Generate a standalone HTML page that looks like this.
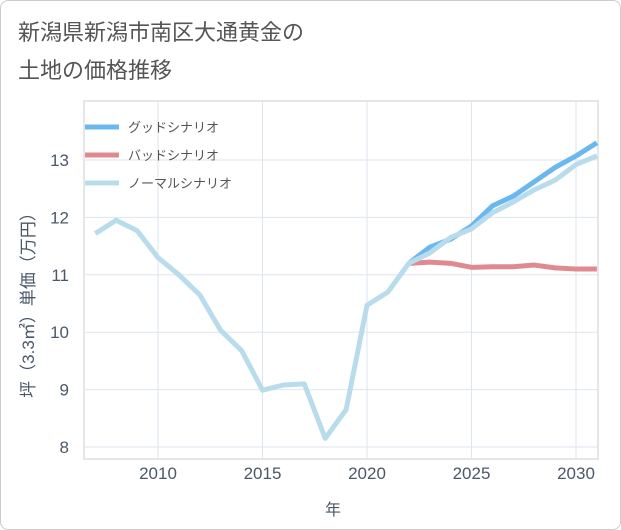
<!DOCTYPE html>
<html><head><meta charset="utf-8"><style>
body{margin:0;background:#fff;}
#card{position:absolute;left:0;top:0;width:619px;height:528px;border:1px solid #ccc;border-radius:8px;background:#fff;overflow:hidden;}
.t{position:absolute;left:17px;font:22px "Liberation Sans","Noto Sans CJK JP",sans-serif;color:#555;}
svg text{font-family:"Liberation Sans","Noto Sans CJK JP",sans-serif;}
</style></head><body>
<div id="card">
<div class="t" style="top:14px">新潟県新潟市南区大通黄金の</div>
<div class="t" style="top:52px">土地の価格推移</div>
<svg id="chart" width="621" height="530" style="position:absolute;left:0;top:0"></svg>
</div>
<script>
const years=[2007,2008,2009,2010,2011,2012,2013,2014,2015,2016,2017,2018,2019,2020,2021,2022,2023,2024,2025,2026,2027,2028,2029,2030,2031];
const normal=[11.72,11.95,11.77,11.3,11.0,10.65,10.03,9.68,8.99,9.08,9.1,8.15,8.65,10.47,10.7,11.2,11.38,11.65,11.8,12.08,12.27,12.48,12.65,12.92,13.07];
const forecastYears=[2022,2023,2024,2025,2026,2027,2028,2029,2030,2031];
const good=[11.2,11.48,11.62,11.85,12.2,12.37,12.62,12.87,13.07,13.3];
const bad=[11.2,11.22,11.2,11.13,11.14,11.14,11.17,11.12,11.1,11.1];
const xTicks=[2010,2015,2020,2025,2030];
const yTicks=[8,9,10,11,12,13];
const legendLabels=["グッドシナリオ","バッドシナリオ","ノーマルシナリオ"];
const legendColors=["#6bb8ef","#e08a90","#b9dcec"];
const L=83,R=597,T=100,B=458;
const x=v=>157+(v-2010)*(575-157)/20;
const y=v=>446-(v-8)*(446-159)/5;
const svg=document.getElementById('chart');
const NS='http://www.w3.org/2000/svg';
function mk(tag,attrs){const e=document.createElementNS(NS,tag);for(const k in attrs)e.setAttribute(k,attrs[k]);svg.appendChild(e);return e;}
let f=mk('rect',{x:L,y:T,width:R-L,height:B-T,fill:'#fff',stroke:'#ccc'});


xTicks.forEach(t=>{
 const g=mk('line',{x1:x(t),x2:x(t),y1:T,y2:B,stroke:'#dde6ee'});
 
 
 const l=mk('text',{x:x(t),y:478,'text-anchor':'middle','font-size':17,fill:'#4a5868'});l.textContent=t;
 
 
});
yTicks.forEach(t=>{
 const g=mk('line',{x1:L,x2:R,y1:y(t),y2:y(t),stroke:'#dde6ee'});
 
 
 const l=mk('text',{x:68,y:y(t)+6,'text-anchor':'end','font-size':17,fill:'#4a5868'});l.textContent=t;
 
 
});
const xt=mk('text',{x:332,y:514,'text-anchor':'middle','font-size':16,fill:'#4a5868'});xt.textContent='年';


const yt=mk('text',{x:0,y:0,'text-anchor':'middle','font-size':17,fill:'#4a5868',transform:'translate(33,300) rotate(-90)'});yt.textContent='坪（3.3㎡）単価（万円）';


svg.appendChild(Object.assign(document.createElementNS(NS,'clipPath'),{id:'cp'}));
const cp=svg.lastChild;const cr=document.createElementNS(NS,'rect');cr.setAttribute('x',L);cr.setAttribute('y',T);cr.setAttribute('width',R-L);cr.setAttribute('height',B-T);cp.appendChild(cr);
function line(xs,vs,color,name){
 const p=mk('polyline',{points:xs.map((v,i)=>x(v)+','+y(vs[i])).join(' '),fill:'none',stroke:color,'stroke-width':5,'stroke-linejoin':'round','clip-path':'url(#cp)'});
 
 
}
line(forecastYears,good,legendColors[0],'good-scenario-line');
line(forecastYears,bad,legendColors[1],'bad-scenario-line');
line(years,normal,legendColors[2],'normal-scenario-line');
legendLabels.forEach((s,i)=>{
 const yy=126+i*28;
 const m=mk('line',{x1:84,x2:118,y1:yy,y2:yy,stroke:legendColors[i],'stroke-width':5});
 
 
 const t=mk('text',{x:127,y:yy+5,'font-size':13,fill:'#555'});t.textContent=s;
 
 
});
</script>
</body></html>
